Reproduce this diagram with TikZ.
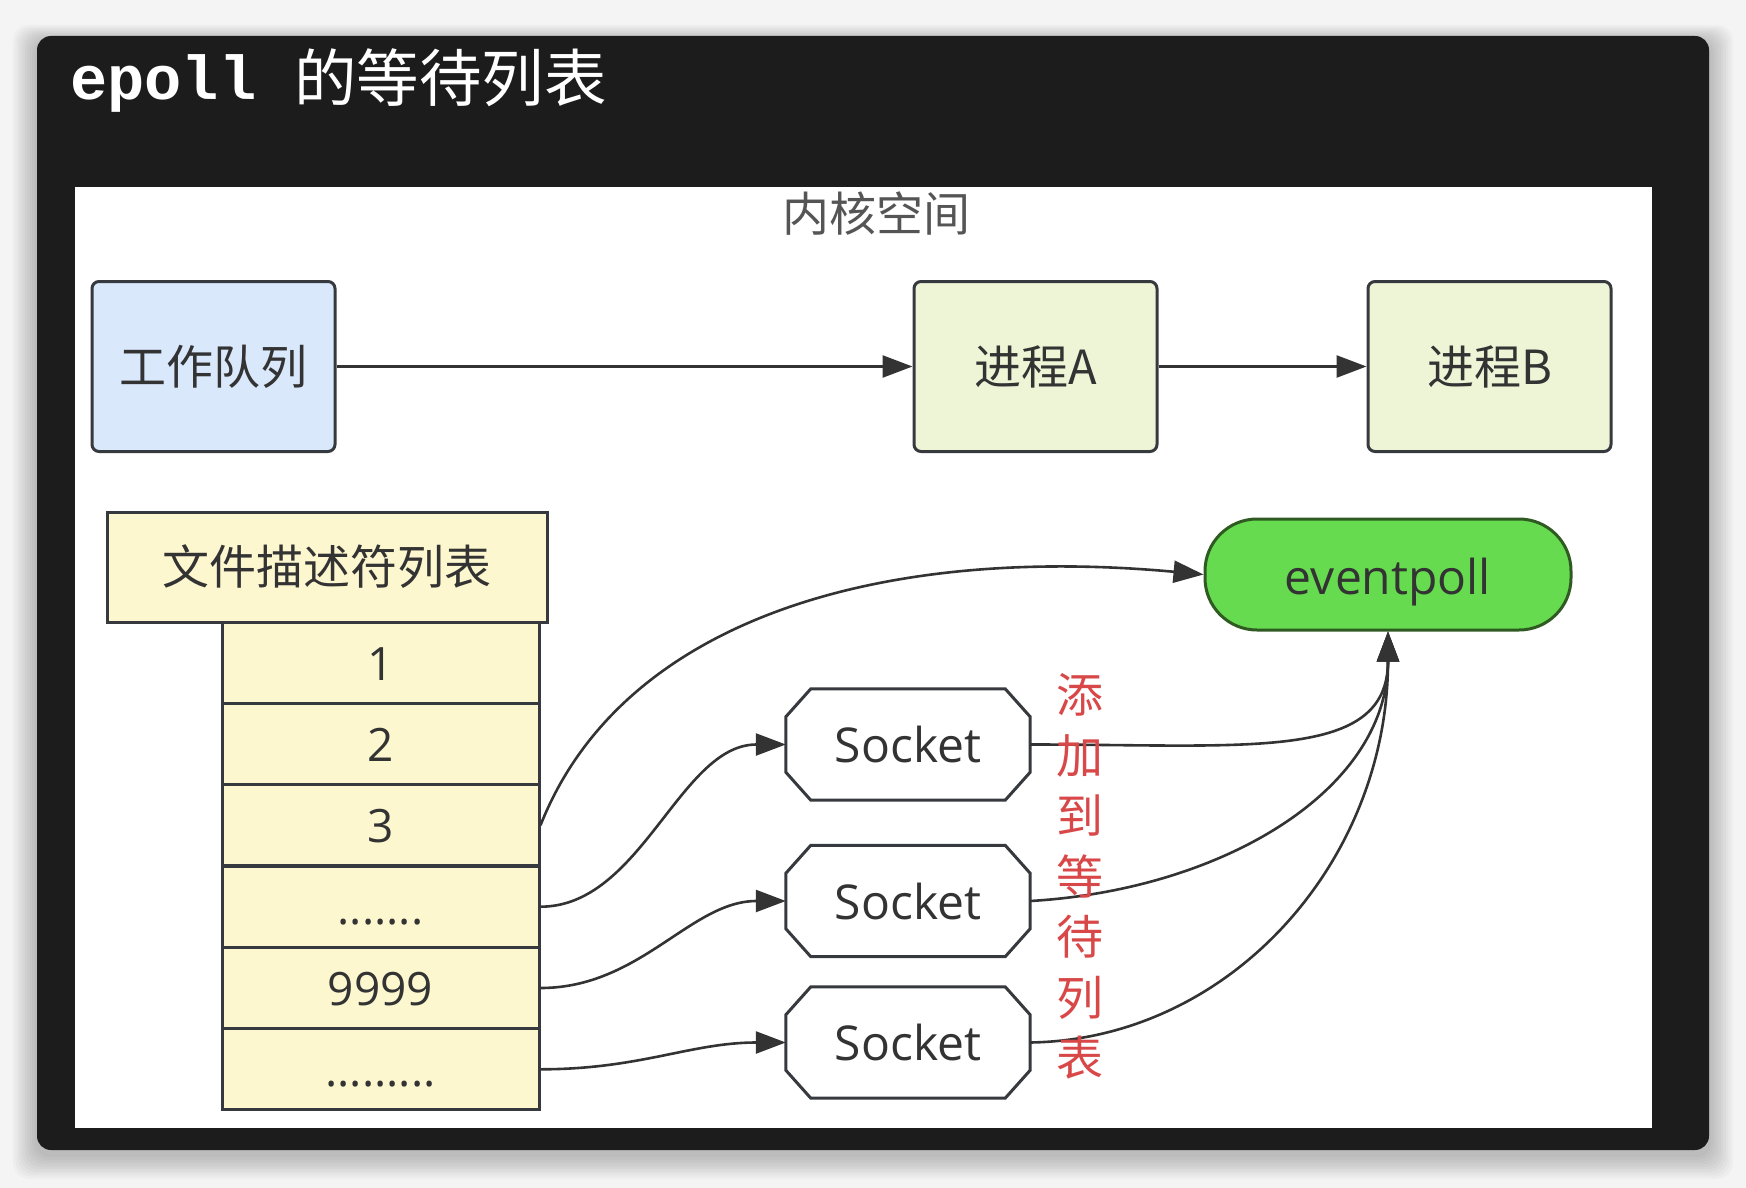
\documentclass[tikz,border=0pt]{standalone}
\usepackage{fontspec}
\setmainfont{Open Sans}
\newfontfamily\cjk{Noto Sans CJK SC}
\newfontfamily\monob{Liberation Mono}
\usetikzlibrary{arrows.meta,calc}
\definecolor{bgcol}{HTML}{F4F4F4}
\definecolor{panel}{HTML}{1C1C1C}
\definecolor{boxline}{HTML}{36393D}
\definecolor{lin}{HTML}{333333}
\definecolor{txt}{HTML}{333333}
\definecolor{blue1}{HTML}{DAE8FC}
\definecolor{green1}{HTML}{EEF5D6}
\definecolor{yel1}{HTML}{FDF7D0}
\definecolor{epfill}{HTML}{66DB4F}
\definecolor{epline}{HTML}{2F5A22}
\definecolor{redtxt}{HTML}{D94848}
\definecolor{graytxt}{HTML}{555555}
\begin{document}
\begin{tikzpicture}[x=1pt,y=-1pt,
  bigbox/.style={draw=boxline, line width=3pt, rounded corners=7pt,
    minimum width=243pt, minimum height=170pt, inner sep=0pt,
    font=\cjk\fontsize{47}{50}\selectfont, text=txt},
  rowbox/.style={draw=boxline, fill=yel1, line width=3pt,
    minimum width=317pt, minimum height=81.3pt, inner sep=0pt,
    text height=40pt, text depth=5pt,
    font=\fontsize{46}{48}\selectfont, text=txt},
  sockbox/.style={minimum width=244pt, minimum height=111pt, inner sep=0pt,
    font=\fontsize{48}{50}\selectfont, text=txt},
  octline/.style={draw=boxline, line width=3pt, line join=miter},
  arr/.style={draw=lin, line width=2.6pt, -{Triangle[length=30pt,width=22pt]}},
]
\useasboundingbox (0,0) rectangle (1746,1188);
\fill[bgcol] (0,0) rectangle (1746,1188);
% shadow
\foreach \i in {1,...,10}{
  \fill[black, opacity=0.022, rounded corners=16pt]
    (37-\i*2.4, 36-\i*1.6+5) rectangle (1709+\i*2.4, 1150+\i*2.4+5);
}
% panels
\fill[panel, rounded corners=14pt] (37,36) rectangle (1709,1150);
\fill[white] (75,187) rectangle (1652,1128);

% title
\node[font=\monob\bfseries\fontsize{62}{62}\selectfont, text=white, anchor=base west, inner sep=0pt] (ttl) at (70,100) {epoll};
\node[font=\cjk\fontsize{62.5}{62}\selectfont, text=white, anchor=base west, inner sep=0pt] (ttc) at (294,102) {的等待列表};

% kernel space label
\node[font=\cjk\fontsize{47}{50}\selectfont, text=graytxt, inner sep=0pt] (ks) at (876,214) {内核空间};

% top boxes
\node[bigbox, fill=blue1] (wq) at (213.5,366.5) {工作队列};
\node[bigbox, fill=green1] (pa) at (1035.5,366.5) {进程A};
\node[bigbox, fill=green1] (pb) at (1489.5,366.5) {进程B};

% fd table
\node[draw=boxline, fill=yel1, line width=3pt, minimum width=440pt, minimum height=110pt, inner sep=0pt,
  font=\cjk\fontsize{47}{50}\selectfont, text=txt] (fdt) at (327,567) {文件描述符列表};
\node[rowbox] (r1) at (380.5,662.7) {1};
\node[rowbox] (r2) at (380.5,744.0) {2};
\node[rowbox] (r3) at (380.5,825.3) {3};
\node[rowbox] (r4) at (380.5,906.7) {.......};
\node[rowbox] (r5) at (380.5,988.0) {9999};
\node[rowbox] (r6) at (380.5,1069.3) {.........};

% eventpoll
\node[draw=epline, fill=epfill, line width=3pt, rounded corners=52pt,
  minimum width=366pt, minimum height=111pt, inner sep=0pt,
  text height=44pt, text depth=4pt,
  font=\fontsize{48}{50}\selectfont, text=txt] (ep) at (1388,574.5) {eventpoll};

% sockets
\node[sockbox] (s1) at (908,744.5) {Socket};
\node[sockbox] (s2) at (908,901) {Socket};
\node[sockbox] (s3) at (908,1042.5) {Socket};
\foreach \s in {s1,s2,s3}{
  \draw[octline] ($(\s.north west)+(25,0)$) -- ($(\s.north east)+(-25,0)$)
    -- ($(\s.north east)+(0,28)$) -- ($(\s.south east)+(0,-28)$)
    -- ($(\s.south east)+(-25,0)$) -- ($(\s.south west)+(25,0)$)
    -- ($(\s.south west)+(0,-28)$) -- ($(\s.north west)+(0,28)$) -- cycle;
}

% connectors
\draw[arr] (wq.east) -- (pa.west);
\draw[arr] (pa.east) -- (pb.west);
\draw[arr] (r3.east) .. controls +(81,-205) and +(-325,-30) .. (ep.west);
\draw[arr] (r4.east) .. controls +(101,0) and +(-106,0) .. (s1.west);
\draw[arr] (r5.east) .. controls +(100,0) and +(-95,0) .. (s2.west);
\draw[arr] (r6.east) .. controls +(100,0) and +(-95,0) .. (s3.west);
\draw[arr] (s1.east) .. controls +(220,0) and +(0,130) .. (ep.south);
\draw[arr] (s2.east) .. controls +(190,-11) and +(0,160) .. (ep.south);
\draw[arr] (s3.east) .. controls +(200,-3) and +(0,230) .. (ep.south);

% red label
\node[font=\cjk\fontsize{47}{60.5}\selectfont, text=redtxt, align=center, inner sep=0pt] (lbl) at (1080,876.5)
  {添\\加\\到\\等\\待\\列\\表};
\end{tikzpicture}
\end{document}
